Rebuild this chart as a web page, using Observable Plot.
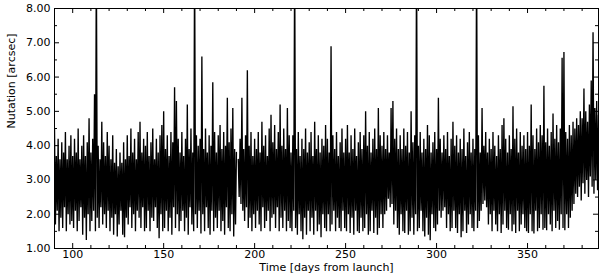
<!DOCTYPE html>
<html><head><meta charset="utf-8">
<script src="https://cdn.jsdelivr.net/npm/d3@7"></script>
<script src="https://cdn.jsdelivr.net/npm/@observablehq/plot@0.6"></script>
<style>html,body{margin:0;padding:0;background:#fff;} svg{display:block;}</style>
</head><body><div id="chart"></div>
<script>
// First day of the record (days from launch)
const startDay = 90;
// Per-day upper envelope of the nutation trace [arcsec]
const dailyHigh = [
4.5,3.7,4.2,3.6,4.1,3.8,4.4,3.6,4.0,4.3,
3.7,4.2,3.8,4.5,3.6,4.0,4.3,3.7,4.1,4.8,
3.8,4.2,5.5,9.5,4.0,3.6,4.7,4.1,3.7,4.4,
4.0,3.6,4.3,3.5,3.9,3.4,3.8,3.5,4.1,3.6,
4.3,3.7,4.5,3.8,4.2,3.6,4.4,4.7,3.8,4.2,
4.0,4.4,3.7,4.1,4.5,3.6,4.2,3.8,4.3,4.6,
5.0,3.9,4.3,3.7,4.4,4.1,5.7,5.3,4.2,3.8,
4.4,3.7,4.2,5.2,3.9,4.5,3.8,9.5,4.3,4.0,
4.2,6.6,3.9,4.5,3.8,4.3,4.0,5.85,4.4,3.8,
4.3,4.6,3.9,4.4,4.0,5.4,4.1,4.5,5.1,3.9,
3.8,3.6,4.2,5.4,3.9,4.3,6.2,4.0,4.4,3.7,
4.2,3.9,4.4,3.8,4.7,4.0,4.3,3.7,4.5,4.9,
4.1,4.6,3.9,4.4,5.2,4.0,4.5,3.9,5.1,4.3,
3.8,4.3,9.5,3.9,4.4,3.7,4.2,3.9,4.5,3.8,
4.1,4.4,3.7,4.7,3.9,4.3,3.8,4.2,4.0,4.6,
4.2,3.8,6.9,4.3,3.9,4.4,3.7,4.1,4.5,3.8,
4.2,4.6,3.8,4.3,3.9,4.5,3.7,4.1,4.4,3.9,
4.3,5.0,4.0,4.4,3.8,4.2,4.5,3.9,5.1,4.3,
4.0,4.4,3.9,4.3,3.8,5.1,5.3,4.2,4.5,3.9,
4.3,3.9,4.5,4.0,4.4,3.8,5.0,4.1,4.3,9.5,
4.0,4.4,3.8,4.2,3.9,4.6,4.3,3.8,4.1,4.4,
3.9,5.4,4.2,3.8,4.3,3.9,4.4,3.7,4.2,4.7,
4.0,4.3,3.8,4.2,3.9,4.5,3.7,4.1,4.4,3.8,
4.2,3.9,9.5,4.3,3.8,5.1,4.0,4.4,3.8,4.2,
3.9,4.4,4.0,3.7,4.3,3.9,4.6,4.8,4.2,3.8,
4.3,3.9,5.15,4.2,4.5,3.8,4.4,4.0,4.3,3.9,
4.4,4.0,5.2,4.3,3.9,4.5,4.1,4.6,4.3,5.75,
4.1,4.5,4.0,4.4,4.94,4.2,4.6,4.1,4.5,6.56,
6.73,4.4,4.2,4.6,4.3,4.7,4.5,4.8,4.6,5.0,
4.8,5.67,5.0,4.7,5.2,5.9,7.31,5.1,5.3,4.9
];
// Per-day lower envelope of the nutation trace [arcsec] (null = data gap)
const dailyLow = [
1.7,2.1,1.5,1.9,1.6,2.2,1.5,2.0,1.7,1.8,
1.6,2.1,1.5,1.8,2.2,1.4,1.9,1.25,2.0,1.5,
1.8,2.1,1.5,1.9,1.6,2.2,1.7,2.0,1.6,2.1,
1.5,1.9,1.4,2.0,1.35,1.7,2.1,1.4,1.33,1.9,
1.7,2.2,1.6,2.0,1.5,2.1,1.9,1.6,2.2,1.5,
1.6,2.1,1.5,1.9,1.8,2.2,1.6,1.3,2.0,1.5,
1.6,2.1,1.5,1.9,1.4,2.2,1.6,2.0,1.5,1.8,
2.1,1.5,1.9,1.4,2.2,1.7,1.5,2.0,1.6,2.1,
1.44,2.0,1.5,2.2,1.6,1.4,2.1,1.5,1.9,1.6,
2.1,1.5,1.8,1.4,2.2,1.6,1.5,2.0,1.35,1.7,
null,2.5,2.3,2.1,1.8,2.2,1.6,1.9,1.5,2.0,
1.6,2.1,1.7,1.5,2.2,1.6,1.8,2.1,1.5,1.9,
2.0,1.6,2.2,1.5,1.9,1.6,2.1,1.5,1.8,1.6,
1.5,2.1,1.6,1.4,2.0,1.5,1.27,1.9,1.4,2.1,
1.5,1.9,1.4,2.1,1.5,1.7,1.33,2.0,1.6,1.5,
2.0,1.5,1.7,2.1,1.5,1.9,1.6,1.5,2.1,1.6,
1.5,2.0,1.45,1.9,1.4,2.1,1.5,1.45,1.9,1.5,
1.6,2.0,1.4,1.5,2.1,1.45,1.9,1.4,1.6,2.0,
1.6,2.0,2.1,2.45,2.2,2.3,1.7,2.1,1.6,1.4,
2.0,1.5,1.45,2.1,1.4,1.5,1.9,1.4,2.0,1.5,
1.6,2.1,1.5,1.35,1.9,1.4,1.24,2.0,1.6,1.5,
1.7,2.1,1.9,2.1,2.2,1.6,2.0,1.5,1.6,2.1,
1.6,1.45,2.0,1.33,1.5,2.1,1.45,1.7,2.0,1.6,
1.5,2.1,1.6,1.8,2.1,2.3,2.4,2.2,1.7,2.0,
1.5,2.1,1.7,1.5,2.0,1.45,1.7,2.1,1.6,1.55,
2.0,1.5,1.7,1.45,2.1,1.5,1.7,2.0,1.6,1.5,
1.45,2.0,1.5,1.44,2.1,1.5,1.6,2.0,1.55,1.6,
1.53,2.0,1.7,1.5,2.1,1.6,1.8,1.55,2.0,1.6,
1.53,2.0,1.6,1.9,2.1,2.3,2.6,2.5,2.8,2.4,
2.9,2.6,3.0,2.5,3.1,2.8,2.6,3.0,2.7,2.9
];
const xMajorTicks = [100, 150, 200, 250, 300, 350];
const xMinorTicks = [90, 110, 120, 130, 140, 160, 170, 180, 190, 210, 220, 230, 240, 260, 270, 280, 290, 310, 320, 330, 340, 360, 370, 380];
const yMajorTicks = [1, 2, 3, 4, 5, 6, 7, 8];
const yMinorTicks = [1.5, 2.5, 3.5, 4.5, 5.5, 6.5, 7.5];
const xLabel = "Time [days from launch]";
const yLabel = "Nutation [arcsec]";

const series = [];
dailyHigh.forEach((h, i) => {
  series.push({t: startDay + i, v: h});
  series.push({t: startDay + i + 0.5, v: dailyLow[i]});
});

const W = 600, H = 278, mL = 54, mR = 2, mT = 8, mB = 30;
const pw = W - mL - mR, ph = H - mT - mB;
const font = "'DejaVu Sans', sans-serif";

const chart = Plot.plot({
  width: W, height: H,
  marginLeft: mL, marginRight: mR, marginTop: mT, marginBottom: mB,
  style: {fontFamily: font, fontSize: "11px", background: "#fff", color: "#000"},
  x: {domain: [90, 389]},
  y: {domain: [1, 8]},
  marks: [
    Plot.line(series, {x: "t", y: "v", stroke: "#000", strokeWidth: 1.35, strokeLinejoin: "miter", strokeMiterlimit: 1, clip: true}),
    Plot.frame({stroke: "#000", strokeWidth: 1}),
    Plot.tickX(xMajorTicks, {x: d => d, insetTop: ph - 5, stroke: "#000"}),
    Plot.tickX(xMajorTicks, {x: d => d, insetBottom: ph - 5, stroke: "#000"}),
    Plot.tickX(xMinorTicks, {x: d => d, insetTop: ph - 3, stroke: "#000"}),
    Plot.tickX(xMinorTicks, {x: d => d, insetBottom: ph - 3, stroke: "#000"}),
    Plot.tickY(yMajorTicks, {y: d => d, insetRight: pw - 5, stroke: "#000"}),
    Plot.tickY(yMajorTicks, {y: d => d, insetLeft: pw - 5, stroke: "#000"}),
    Plot.tickY(yMinorTicks, {y: d => d, insetRight: pw - 3, stroke: "#000"}),
    Plot.tickY(yMinorTicks, {y: d => d, insetLeft: pw - 3, stroke: "#000"}),
    Plot.axisX({ticks: xMajorTicks, tickSize: 0, tickPadding: 2, label: null, fontSize: 11, tickFormat: d => String(d)}),
    Plot.axisY({ticks: yMajorTicks, tickSize: 0, tickPadding: 4, label: null, fontSize: 11, tickFormat: d3.format(".2f")}),
    Plot.text([xLabel], {text: d => d, frameAnchor: "bottom", dy: 22.5, fontSize: 11, fill: "#000"}),
    Plot.text([yLabel], {text: d => d, frameAnchor: "left", dx: -43.5, rotate: -90, fontSize: 11, fill: "#000"})
  ]
});
document.getElementById("chart").appendChild(chart);
</script>
</body></html>
